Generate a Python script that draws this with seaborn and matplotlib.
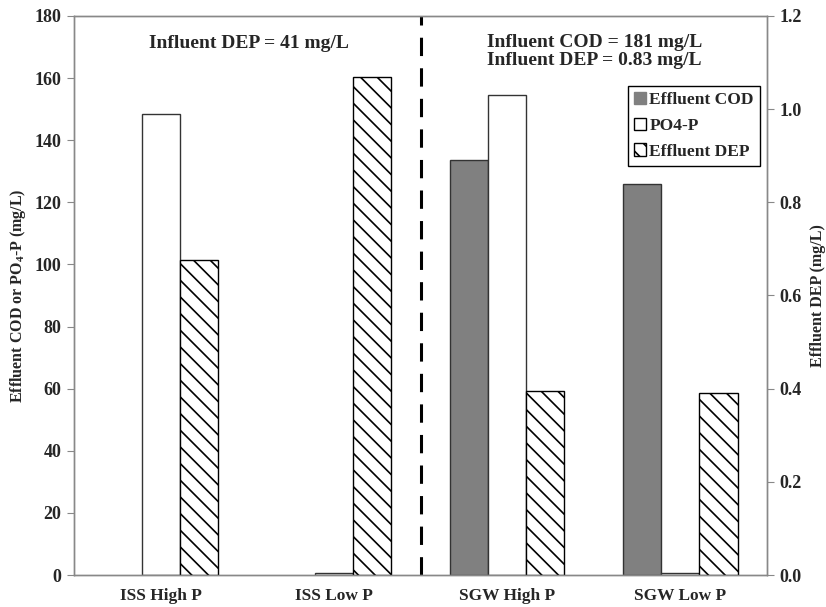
import numpy as np
import pandas as pd
import matplotlib
matplotlib.use('Agg')
import matplotlib.pyplot as plt
import seaborn as sns
from matplotlib.patches import Patch

conditions = ['ISS High P', 'ISS Low P', 'SGW High P', 'SGW Low P']
effluent_cod = [np.nan, np.nan, 133.5, 126.0]
po4_p = [148.3, 0.5, 154.7, 0.5]
effluent_dep = [0.677, 1.07, 0.395, 0.39]

series = ['Effluent COD', 'PO4-P', 'Effluent DEP']

sns.set_style('white')
plt.rcParams['font.family'] = ['Liberation Serif', 'DejaVu Serif']
plt.rcParams['font.weight'] = 'bold'
plt.rcParams['mathtext.fontset'] = 'custom'
plt.rcParams['mathtext.rm'] = 'Liberation Serif:bold'
plt.rcParams['mathtext.it'] = 'Liberation Serif:bold'
plt.rcParams['mathtext.bf'] = 'Liberation Serif:bold'
plt.rcParams['hatch.linewidth'] = 1.2

left_df = pd.DataFrame({
    'condition': conditions * 2,
    'series': ['Effluent COD'] * 4 + ['PO4-P'] * 4,
    'value': effluent_cod + po4_p,
})
right_df = pd.DataFrame({
    'condition': conditions,
    'series': ['Effluent DEP'] * 4,
    'value': effluent_dep,
})

colors = {'Effluent COD': '#808080', 'PO4-P': 'white', 'Effluent DEP': 'white'}
dep_hatch = '\\\\'

fig = plt.figure(figsize=(8.26, 6.07), dpi=100)
ax = fig.add_axes([74 / 826, 32 / 607, 693 / 826, 559 / 607])

sns.barplot(data=left_df, x='condition', y='value', hue='series', hue_order=series,
            order=conditions, palette=colors, width=0.66, dodge=True, ax=ax,
            legend=False, errorbar=None)
ax2 = ax.twinx()
sns.barplot(data=right_df, x='condition', y='value', hue='series', hue_order=series,
            order=conditions, palette=colors, width=0.66, dodge=True, ax=ax2,
            legend=False, errorbar=None)

for c in ax.containers:
    lab = c.get_label()
    for p in c:
        if lab == 'Effluent COD':
            p.set_edgecolor('#808080')
        else:
            p.set_edgecolor('#333333')
        p.set_linewidth(1.0)
for c in ax2.containers:
    for p in c:
        p.set_hatch(dep_hatch)
        p.set_edgecolor('black')
        p.set_linewidth(1.0)

ax.set_ylim(0, 180)
ax.set_yticks(np.arange(0, 181, 20))
ax2.set_ylim(0, 1.2)
ax2.set_yticks(np.arange(0, 1.21, 0.2))
ax2.set_yticklabels([f'{v:.1f}' for v in np.arange(0, 1.21, 0.2)])
ax.set_xlim(-0.5, 3.5)

ax.set_xticks([-0.5, 0.5, 1.5, 2.5, 3.5])
ax.set_xticklabels([])
ax.set_xticks(range(4), minor=True)
ax.set_xticklabels(conditions, minor=True, fontsize=12.5, fontweight='bold')
ax.tick_params(axis='x', which='minor', length=0, pad=9)
ax.tick_params(axis='x', which='major', length=5, color='#888888', direction='out')
ax.tick_params(axis='y', length=5, color='#888888', direction='out', labelsize=13, pad=4)
ax2.tick_params(axis='y', length=5, color='#888888', direction='out', labelsize=13, pad=4)

for a in (ax, ax2):
    for s in a.spines.values():
        s.set_color('#888888')
        s.set_linewidth(1.0)
    a.set_xlabel('')

ax.set_ylabel('Effluent COD or PO$_4$-P (mg/L)', fontsize=11.5, fontweight='bold', labelpad=5)
ax2.set_ylabel('Effluent DEP (mg/L)', fontsize=11.5, fontweight='bold', labelpad=6)

ax.axvline(1.5, color='black', lw=2.2, dashes=(6, 4))

ax.text(0.252, 0.95, 'Influent DEP = 41 mg/L', transform=ax.transAxes,
        ha='center', va='center', fontsize=14, fontweight='bold')
ax.text(0.596, 0.9365, 'Influent COD = 181 mg/L\nInfluent DEP = 0.83 mg/L',
        transform=ax.transAxes, ha='left', va='center', fontsize=14,
        fontweight='bold', linespacing=1.15)

handles = [Patch(facecolor='#808080', edgecolor='#808080', label='Effluent COD'),
           Patch(facecolor='white', edgecolor='black', label='PO4-P'),
           Patch(facecolor='white', edgecolor='black', hatch=dep_hatch, label='Effluent DEP')]
leg = ax2.legend(handles=handles, loc='upper right', bbox_to_anchor=(0.990, 0.875),
                 fancybox=False, edgecolor='black', framealpha=1,
                 prop={'family': 'Liberation Serif', 'weight': 'bold', 'size': 12.5},
                 handlelength=0.7, handleheight=0.7, handletextpad=0.2,
                 borderpad=0.35, labelspacing=0.55, borderaxespad=0)
leg.get_frame().set_linewidth(1.0)

fig.savefig('out.png', dpi=100)
